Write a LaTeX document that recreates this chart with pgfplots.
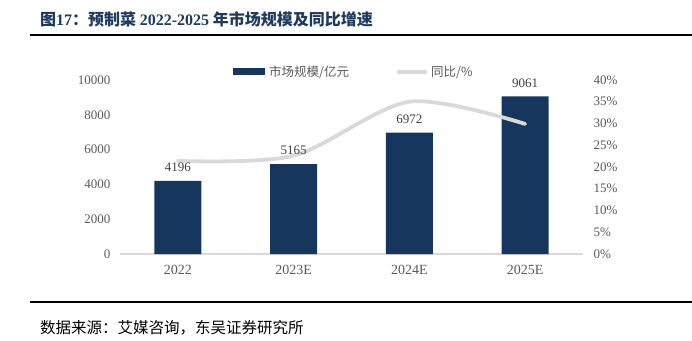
\documentclass[border=0pt]{standalone}
\usepackage{pgfplots}
\pgfplotsset{compat=1.18}
\usepackage{fontspec}
\setmainfont{Liberation Serif}
\newfontfamily\cjk{Noto Sans CJK SC}
\definecolor{barblue}{HTML}{17365D}
\definecolor{titleblue}{HTML}{1F3A5F}
\definecolor{lgray}{HTML}{D9D9D9}
\definecolor{tickgray}{HTML}{595959}
\definecolor{lblgray}{HTML}{404040}
\pgfplotsset{
  base/.style={
    at={(120pt,86pt)}, anchor=south west, scale only axis,
    width=463pt, height=174pt,
    xmin=-0.5, xmax=3.5,
    major tick length=0pt,
    /pgf/number format/assume math mode=true,
    /pgf/number format/1000 sep={},
    clip=false,
  }
}
\begin{document}
\begin{tikzpicture}
\path[use as bounding box] (0pt,0pt) rectangle (692pt,340pt);
% title
\node[anchor=west, text=titleblue, font=\fontsize{16}{19}\selectfont, inner sep=0] at (40pt,321pt)
  {{\cjk\bfseries 图}{\bfseries 17}{\cjk\bfseries ：预制菜 }{\bfseries 2022-2025}{\cjk\bfseries\ 年市场规模及同比增速}};
\draw[line width=1.5pt] (30pt,305pt) -- (692pt,305pt);
\draw[line width=1.2pt] (30pt,38pt) -- (692pt,38pt);
\node[anchor=west, font=\cjk\fontsize{15.5}{18}\selectfont, inner sep=0] at (40pt,12pt) {数据来源：艾媒咨询，东吴证券研究所};
% legend
\fill[barblue] (233pt,264.5pt) rectangle (265pt,271.5pt);
\node[anchor=west, text=tickgray, font=\cjk\fontsize{12.5}{14}\selectfont, inner sep=0] at (269pt,268pt) {市场规模/亿元};
\draw[lgray, line width=3.5pt] (397pt,268pt) -- (427pt,268pt);
\node[anchor=west, text=tickgray, font=\cjk\fontsize{12.5}{14}\selectfont, inner sep=0] at (431pt,268pt) {同比/\%};
\begin{axis}[base,
  ymin=0, ymax=10000,
  xtick={0,1,2,3}, xticklabels={2022,2023E,2024E,2025E},
  ytick={0,2000,...,10000},
  scaled y ticks=false,
  axis x line*=bottom, axis y line*=left,
  y axis line style={draw=none},
  x axis line style={draw=lgray, line width=1.2pt},
  xticklabel style={text=tickgray, font=\fontsize{14}{16}\selectfont, yshift=-8pt},
  yticklabel style={text=tickgray, font=\fontsize{13}{15}\selectfont, xshift=-6pt},
  ybar, bar width=47pt,
]
\addplot[fill=barblue, draw=none] coordinates {(0,4196) (1,5165) (2,6972) (3,9061)};
\end{axis}
\begin{axis}[base,
  ymin=0, ymax=40,
  ytick={0,5,...,40},
  yticklabel={\pgfmathprintnumber{\tick}\%},
  axis x line=none, axis y line*=right,
  y axis line style={draw=none},
  yticklabel style={text=tickgray, font=\fontsize{13}{15}\selectfont, xshift=7pt},
]
\addplot[smooth, lgray, line width=3.8pt, line cap=round] coordinates {(0,21.4) (1,22.6) (2,35.0) (3,29.9)};
\end{axis}
\begin{axis}[base,
  ymin=0, ymax=10000,
  axis lines=none,
  ybar, bar width=47pt,
  nodes near coords,
  every node near coord/.append style={text=lblgray, font=\fontsize{13}{15}\selectfont, yshift=5.5pt},
]
\addplot[draw=none, fill=none] coordinates {(0,4196) (1,5165) (2,6972) (3,9061)};
\end{axis}
\end{tikzpicture}
\end{document}
